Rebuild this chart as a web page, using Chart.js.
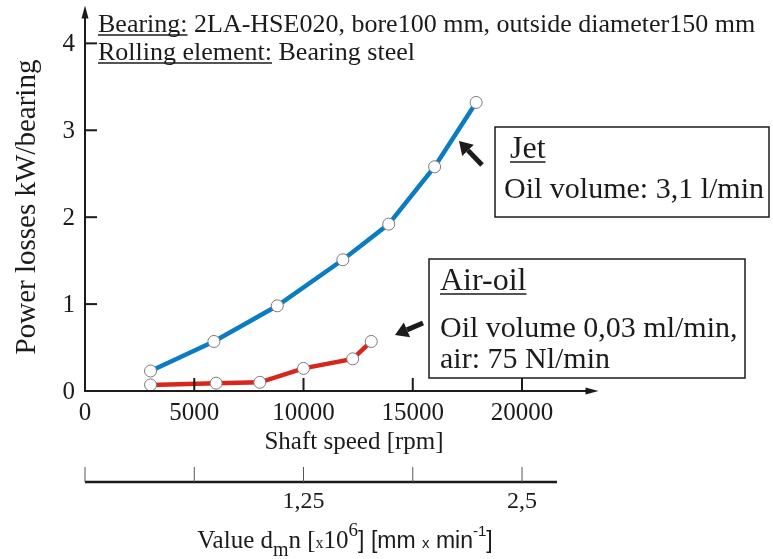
<!DOCTYPE html>
<html><head><meta charset="utf-8">
<script src="https://cdn.jsdelivr.net/npm/chart.js@4"></script>
<style>html,body{margin:0;padding:0;background:#fff}canvas{display:block}</style>
</head><body>
<canvas id="c" width="773" height="559"></canvas>
<script>
// ---- data ----
const jetSpeed = [3000, 5900, 8800, 11800, 13900, 16000, 17900];
const jetPower = [0.23, 0.57, 0.98, 1.51, 1.92, 2.58, 3.32];
const airSpeed = [3000, 6000, 8000, 10000, 12250, 13100];
const airPower = [0.07, 0.09, 0.10, 0.26, 0.37, 0.57];
const speedTicks = [0, 5000, 10000, 15000, 20000];
const speedTickLabels = ['0', '5000', '10000', '15000', '20000'];
const powerTicks = [0, 1, 2, 3, 4];
const powerTickLabels = ['0', '1', '2', '3', '4'];
const dmnTickSpeeds = [0, 5000, 10000, 15000, 20000];
const dmnTickLabels = ['', '', '1,25', '', '2,5'];
const dmnAxisEnd = 21600;

const SERIF = '"Liberation Serif", "Times New Roman", serif';
const SANS = '"Liberation Sans", Arial, sans-serif';
const INK = '#1b1b1b';

function pts(xs, ys) { return xs.map((v, i) => ({ x: v, y: ys[i] })); }

function underline(ctx, text, x, y, off) {
  const w = ctx.measureText(text).width;
  ctx.save(); ctx.lineWidth = 1.4; ctx.beginPath();
  ctx.moveTo(x, y + off); ctx.lineTo(x + w, y + off); ctx.stroke(); ctx.restore();
  return w;
}

function arrow(ctx, tx, ty, sx, sy) {
  const a = Math.atan2(ty - sy, tx - sx);
  const L = 13, W = 8;
  const bx = tx - L * Math.cos(a), by = ty - L * Math.sin(a);
  ctx.save();
  ctx.lineWidth = 5; ctx.lineCap = 'butt';
  ctx.beginPath(); ctx.moveTo(sx, sy); ctx.lineTo(bx, by); ctx.stroke();
  ctx.beginPath(); ctx.moveTo(tx, ty);
  ctx.lineTo(bx + W * Math.sin(a), by - W * Math.cos(a));
  ctx.lineTo(bx - W * Math.sin(a), by + W * Math.cos(a));
  ctx.closePath(); ctx.fill();
  ctx.restore();
}

function runs(ctx, parts, cx, base) {
  let total = 0;
  parts.forEach(p => { ctx.font = p.f; p.w = ctx.measureText(p.t).width; total += p.w; });
  let xx = cx - total / 2;
  ctx.textAlign = 'left'; ctx.textBaseline = 'alphabetic';
  parts.forEach(p => { ctx.font = p.f; ctx.fillText(p.t, xx, base + (p.dy || 0)); xx += p.w; });
}

const decor = {
  id: 'decor',
  afterDraw(chart) {
    const { ctx, scales: { x, y } } = chart;
    const x0 = x.getPixelForValue(0), y0 = y.getPixelForValue(0);
    const yTop = y.getPixelForValue(y.max), xRight = x.getPixelForValue(x.max);
    ctx.save();
    ctx.strokeStyle = INK; ctx.fillStyle = INK;

    // main axes
    ctx.lineWidth = 2;
    ctx.beginPath(); ctx.moveTo(x0, y0 + 1); ctx.lineTo(x0, yTop + 6); ctx.stroke();
    ctx.beginPath(); ctx.moveTo(x0, yTop - 3); ctx.lineTo(x0 - 3.5, yTop + 10); ctx.lineTo(x0 + 3.5, yTop + 10); ctx.closePath(); ctx.fill();
    ctx.beginPath(); ctx.moveTo(x0 - 1, y0); ctx.lineTo(xRight - 6, y0); ctx.stroke();
    ctx.beginPath(); ctx.moveTo(xRight, y0); ctx.lineTo(xRight - 13, y0 - 3.5); ctx.lineTo(xRight - 13, y0 + 3.5); ctx.closePath(); ctx.fill();

    // y ticks
    ctx.font = '25px ' + SERIF; ctx.textAlign = 'right'; ctx.textBaseline = 'middle';
    powerTicks.forEach((v, i) => {
      const py = y.getPixelForValue(v);
      if (v > 0) { ctx.beginPath(); ctx.moveTo(x0, py); ctx.lineTo(x0 + 12, py); ctx.stroke(); }
      ctx.fillText(powerTickLabels[i], x0 - 10, py + 1);
    });
    // x ticks
    ctx.textAlign = 'center';
    speedTicks.forEach((v, i) => {
      const px = x.getPixelForValue(v);
      if (v > 0) { ctx.beginPath(); ctx.moveTo(px, y0); ctx.lineTo(px, y0 - 13); ctx.stroke(); }
      ctx.fillText(speedTickLabels[i], px, y0 + 22);
    });
    // axis titles
    ctx.textBaseline = 'alphabetic';
    ctx.fillText('Shaft speed [rpm]', 354, 449);
    ctx.save(); ctx.translate(27, 207); ctx.rotate(-Math.PI / 2);
    ctx.font = '29px ' + SERIF; ctx.textBaseline = 'middle'; ctx.fillText('Power losses kW/bearing', 0, 0);
    ctx.restore();

    // secondary dmn axis
    const yb = 482;
    ctx.lineWidth = 2.5;
    ctx.beginPath(); ctx.moveTo(x.getPixelForValue(0), yb); ctx.lineTo(x.getPixelForValue(dmnAxisEnd), yb); ctx.stroke();
    ctx.lineWidth = 1; ctx.strokeStyle = '#555';
    ctx.font = '24px ' + SERIF; ctx.textAlign = 'center';
    dmnTickSpeeds.forEach((v, i) => {
      const px = x.getPixelForValue(v);
      ctx.beginPath(); ctx.moveTo(px, yb); ctx.lineTo(px, yb - 15); ctx.stroke();
      if (dmnTickLabels[i]) ctx.fillText(dmnTickLabels[i], px, 508);
    });
    ctx.strokeStyle = INK;
    runs(ctx, [
      { t: 'Value d', f: '25px ' + SERIF },
      { t: 'm', f: '20px ' + SERIF, dy: 8 },
      { t: 'n [', f: '25px ' + SERIF },
      { t: 'x', f: '16px ' + SERIF },
      { t: '10', f: '25px ' + SERIF },
      { t: '6', f: '19px ' + SERIF, dy: -12 },
      { t: '] [mm ', f: '23px ' + SANS },
      { t: 'x', f: '15px ' + SANS },
      { t: ' min', f: '23px ' + SANS },
      { t: '-1', f: '15px ' + SANS, dy: -12 },
      { t: ']', f: '23px ' + SANS }
    ], 345, 548);

    // header text
    ctx.textAlign = 'left'; ctx.textBaseline = 'alphabetic';
    ctx.font = '26px ' + SERIF;
    let w = underline(ctx, 'Bearing:', 98, 32, 3);
    ctx.fillText('Bearing:', 98, 32);
    ctx.fillText(' 2LA-HSE020, bore100 mm, outside diameter150 mm', 98 + w, 32);
    w = underline(ctx, 'Rolling element:', 98, 60, 3);
    ctx.fillText('Rolling element:', 98, 60);
    ctx.fillText(' Bearing steel', 98 + w, 60);

    // Jet box
    ctx.lineWidth = 1.5;
    ctx.strokeRect(495, 127, 274, 90);
    ctx.font = '32px ' + SERIF;
    underline(ctx, 'Jet', 510, 158, 4);
    ctx.fillText('Jet', 510, 158);
    ctx.font = '30px ' + SERIF;
    ctx.fillText('Oil volume: 3,1 l/min', 504, 198);
    arrow(ctx, 459, 141, 482, 165);

    // Air-oil box
    ctx.lineWidth = 1.5;
    ctx.strokeRect(429, 259, 316, 119);
    ctx.font = '32px ' + SERIF;
    underline(ctx, 'Air-oil', 440, 290, 4);
    ctx.fillText('Air-oil', 440, 290);
    ctx.font = '30px ' + SERIF;
    ctx.fillText('Oil volume 0,03 ml/min,', 440, 337);
    ctx.fillText('air: 75 Nl/min', 440, 368);
    arrow(ctx, 395, 335, 423, 323);

    ctx.restore();
  }
};

new Chart(document.getElementById('c'), {
  type: 'scatter',
  data: {
    datasets: [
      { label: 'Jet', data: pts(jetSpeed, jetPower), showLine: true, borderColor: '#0a7cc3', borderWidth: 4.5,
        pointRadius: 6, pointBackgroundColor: '#fff', pointBorderColor: '#7a7a7a', pointBorderWidth: 1, tension: 0 },
      { label: 'Air-oil', data: pts(airSpeed, airPower), showLine: true, borderColor: '#d9261c', borderWidth: 4.5,
        pointRadius: 6, pointBackgroundColor: '#fff', pointBorderColor: '#7a7a7a', pointBorderWidth: 1, tension: 0 }
    ]
  },
  options: {
    responsive: false, animation: false, devicePixelRatio: 1,
    layout: { padding: { left: 85, right: 174.5, top: 8.6, bottom: 168 } },
    scales: {
      x: { type: 'linear', min: 0, max: 23500, display: false },
      y: { type: 'linear', min: 0, max: 4.4, display: false }
    },
    plugins: { legend: { display: false }, tooltip: { enabled: false } }
  },
  plugins: [decor]
});
</script>
</body></html>
